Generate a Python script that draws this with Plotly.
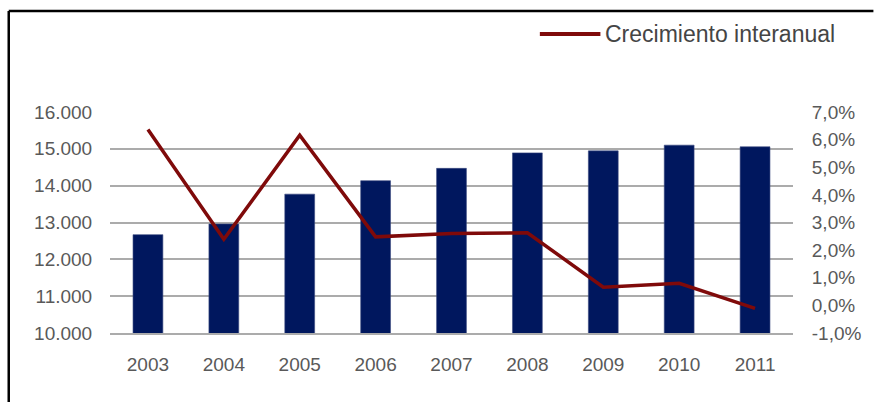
import plotly.graph_objects as go

years = ["2003", "2004", "2005", "2006", "2007", "2008", "2009", "2010", "2011"]
poblacion = [12670, 12960, 13770, 14135, 14470, 14890, 14945, 15100, 15055]
crecimiento = [0.0637, 0.0239, 0.0616, 0.0248, 0.0260, 0.0263, 0.0066, 0.0080, -0.0011]
serie_linea = "Crecimiento interanual"
ticks_pct = [-0.01, 0.0, 0.01, 0.02, 0.03, 0.04, 0.05, 0.06, 0.07]

W, H = 874, 402
L, R, T, B = 110, 76, 112, 69
PW, PH = W - L - R, H - T - B

def px(x):
    return (x - L) / PW

def py(y):
    return (H - B - y) / PH

FONT = "Liberation Sans, Arial, sans-serif"
BAR_C = "#00175E"
LINE_C = "#7F0A0A"
GRID_C = "#ABABAB"
TICK_C = "#595959"

pct_labels = [("%.1f%%" % (v * 100)).replace(".", ",").replace("-0,0", "0,0") for v in ticks_pct]

fig = go.Figure()
fig.add_trace(go.Bar(x=years, y=poblacion, marker=dict(color=BAR_C, line=dict(color="#3A4A80", width=0.6)),
                     yaxis="y", showlegend=False))
fig.add_trace(go.Scatter(x=years, y=crecimiento, mode="lines", name=serie_linea,
                         line=dict(color=LINE_C, width=3.5), yaxis="y2", showlegend=False))

shapes = [
    dict(type="line", xref="paper", yref="paper", x0=px(543), x1=px(604), y0=py(34), y1=py(34),
         line=dict(color=LINE_C, width=4)),
    dict(type="line", xref="paper", yref="paper", x0=px(8), x1=px(W + 5), y0=py(11), y1=py(11),
         line=dict(color="black", width=2.5)),
    dict(type="line", xref="paper", yref="paper", x0=px(8), x1=px(8), y0=py(11), y1=py(H + 5),
         line=dict(color="black", width=2.5)),
]
annotations = [
    dict(text=serie_linea, xref="paper", yref="paper", x=px(607), y=py(34), xanchor="left", yanchor="middle",
         showarrow=False, font=dict(family=FONT, size=23, color="#454545")),
]

fig.update_layout(
    width=W, height=H,
    margin=dict(l=L, r=R, t=T, b=B),
    paper_bgcolor="white", plot_bgcolor="white",
    separators=",.",
    bargap=0.607,
    font=dict(family=FONT, size=19, color=TICK_C),
    shapes=shapes, annotations=annotations,
    xaxis=dict(type="category", showgrid=False, showline=True, linecolor=GRID_C, linewidth=1.5,
               ticks="outside", ticklen=13, tickcolor="rgba(0,0,0,0)",
               tickfont=dict(family=FONT, size=19, color=TICK_C)),
    yaxis=dict(range=[10000, 16000], dtick=1000, tickformat=",.0f", showgrid=True, gridcolor=GRID_C,
               gridwidth=1.5, zeroline=False, ticks="outside", ticklen=13, tickcolor="rgba(0,0,0,0)",
               tickfont=dict(family=FONT, size=19, color=TICK_C)),
    yaxis2=dict(range=[-0.01, 0.07], tickmode="array", tickvals=ticks_pct, ticktext=pct_labels,
                overlaying="y", side="right",
                showgrid=False, zeroline=False, ticks="outside", ticklen=14, tickcolor="rgba(0,0,0,0)",
                tickfont=dict(family=FONT, size=19, color=TICK_C)),
)

fig.write_html("out.html", config={"displayModeBar": False},
               post_script="document.body.style.margin='0';")
